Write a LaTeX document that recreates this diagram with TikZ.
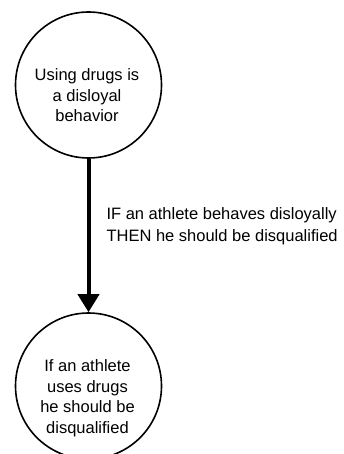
\documentclass[tikz,border=0pt]{standalone}
\usepackage{fontspec}
\setmainfont{Liberation Sans}
\usetikzlibrary{arrows.meta}
\begin{document}
\begin{tikzpicture}[x=1pt,y=1pt,
    claim/.style={draw,circle,line width=1.6pt,minimum size=146pt,inner sep=0pt},
    claimtext/.style={align=center,font=\fontsize{16.5}{20.5}\selectfont},
    rule/.style={align=left,font=\fontsize{16.5}{22}\selectfont}]
    \useasboundingbox (0,0) rectangle (344,-454);

    \node[claim] (premise) at (88.5,-85) {};
    \node[claimtext] (premisetxt) at (87,-97) {Using drugs is\strut\\a disloyal\strut\\behavior\strut};

    \node[claim] (conclusion) at (88.5,-386) {};
    \node[claimtext] (conclusiontxt) at (87.5,-398.5) {If an athlete\strut\\uses drugs\strut\\he should be\strut\\disqualified\strut};

    \draw[line width=4pt,-{Triangle[length=18pt,width=21pt]}] (premise) -- (conclusion);

    \node[rule,anchor=west] (warrant) at (103,-226) {IF an athlete behaves disloyally\strut\\THEN he should be disqualified\strut};
  \end{tikzpicture}
\end{document}
